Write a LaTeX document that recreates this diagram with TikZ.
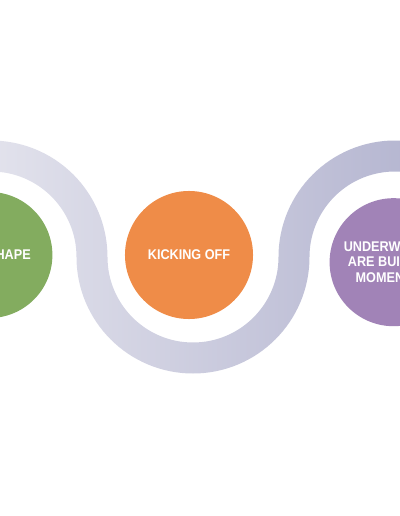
\documentclass[tikz,border=0pt]{standalone}
\usepackage{fontspec}
\setmainfont{Liberation Sans}[FakeStretch=0.9]
\usepackage{xcolor}
\usetikzlibrary{positioning}

\definecolor{shapeGreen}{RGB}{131,172,95}
\definecolor{kickOrange}{RGB}{239,140,72}
\definecolor{momentPurple}{RGB}{161,131,183}
\definecolor{bandLight}{RGB}{234,234,241}
\definecolor{bandDark}{RGB}{175,176,205}

\begin{document}
\begin{tikzpicture}[
    x=0.025cm, y=0.025cm,
    node distance=1.8cm,
    every node/.style={font=\bfseries\fontsize{10}{10.8}\selectfont},
    stage/.style={circle, minimum size=3.2cm, inner sep=0pt,
                  align=center, text=white},
    band/.style={left color=bandLight, right color=bandDark},
]
\useasboundingbox (0,0) rectangle (400,516);
\clip (0,0) rectangle (400,516);

% winding road behind the stages
\shade[band] (-9,259) ++(130:116.5)
    arc[start angle=130, end angle=0, radius=116.5]
    arc[start angle=180, end angle=360, radius=85.5]
    arc[start angle=180, end angle=50, radius=116.5]
    -- ++(230:31)
    arc[start angle=50, end angle=180, radius=85.5]
    arc[start angle=0, end angle=-180, radius=116.5]
    arc[start angle=0, end angle=130, radius=85.5] -- cycle;

\node[stage, fill=kickOrange] (kick) at (189,261) {KICKING OFF};
\node[stage, fill=shapeGreen, left=1.8cm of kick, minimum size=3.15cm] (shape) {};
\node[text=white, xshift=-0.15cm] (shapetext) at (shape.center) {TAKING SHAPE};
\node[stage, fill=momentPurple, right=1.9cm of kick, yshift=-0.18cm] (underway)
    {UNDERWAY: WE\\ARE BUILDING\\MOMENTUM};
\end{tikzpicture}
\end{document}
